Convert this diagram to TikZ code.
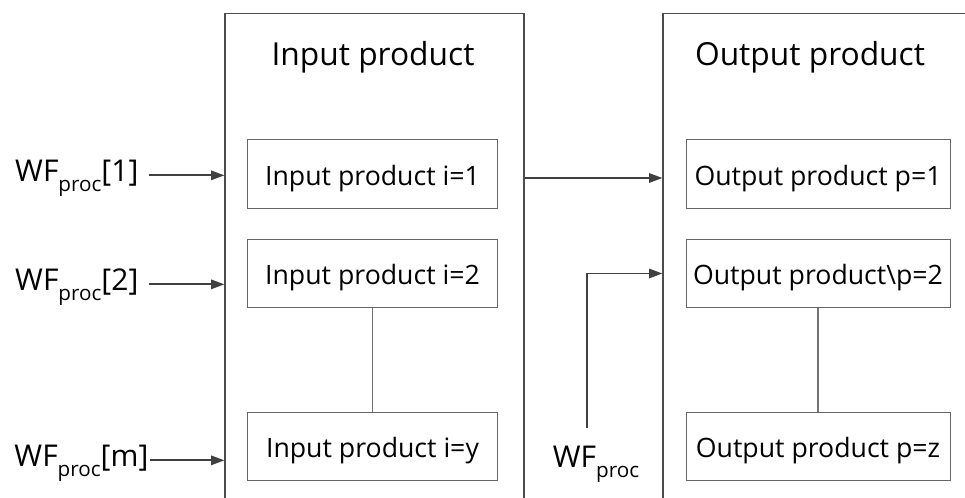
\documentclass[tikz,border=0pt]{standalone}
\usepackage{fontspec}
\setmainfont{Open Sans}
\usetikzlibrary{positioning,arrows.meta}
\newcommand{\wfsub}[1]{\raisebox{-0.6ex}{\fontsize{15.5}{16}\selectfont #1}}
\tikzset{
  frame/.style={draw=black!70, line width=0.8pt, minimum height=372pt, inner sep=0pt},
  item/.style={draw=black!60, line width=0.7pt, minimum height=51.5pt,
    inner sep=0pt, text height=19pt, text depth=2pt, font=\fontsize{20}{22}\selectfont},
  heading/.style={font=\fontsize{23.8}{27}\selectfont},
  wflabel/.style={font=\fontsize{22.5}{26}\selectfont, inner sep=1pt},
  flow/.style={-{Triangle[length=10pt,width=7pt]}, draw=black!75, line width=1.4pt},
  link/.style={draw=black!55, line width=0.8pt}
}
\begin{document}
\begin{tikzpicture}[x=0.75pt, y=-0.75pt]
  \useasboundingbox (0,0) rectangle (965,497);
  % containers
  \node[frame, minimum width=224.25pt] (inbox) at (374.5,261.5) {};
  \node[frame, minimum width=234pt] (outbox) at (819,261.5) {};
  \node[heading] (intitle) at (373,57) {Input product};
  \node[heading] (outtitle) at (810,57) {Output product};
  % input side
  \node[item, minimum width=187pt] (in1) at (372.5,174) {Input product i=1};
  \node[item, minimum width=187pt] (in2) at (372.5,273.5) {Input product i=2};
  \node[item, minimum width=187pt] (in3) at (372.5,446.5) {Input product i=y};
  \draw[link] (in2) -- (in3);
  % output side
  \node[item, minimum width=198pt] (out1) at (818,174) {Output product p=1};
  \node[item, minimum width=198pt] (out2) at (818,273.5) {Output product\textbackslash p=2};
  \node[item, minimum width=198pt] (out3) at (818,446.5) {Output product p=z};
  \draw[link] (out2) -- (out3);
  % work flows
  \node[wflabel, anchor=east] (wf1) at (140,178) {WF\wfsub{proc}[1]};
  \node[wflabel, anchor=east] (wf2) at (140,287) {WF\wfsub{proc}[2]};
  \node[wflabel, anchor=east] (wfm) at (150,463) {WF\wfsub{proc}[m]};
  \node[wflabel] (wfo) at (596,464) {WF\wfsub{proc}};
  \coordinate (wfotop) at (587,428);
  \draw[flow] ([xshift=7pt,yshift=2pt]wf1.east) -- ([yshift=2pt]wf1.east -| inbox.west);
  \draw[flow] ([xshift=7pt,yshift=2pt]wf2.east) -- ([yshift=2pt]wf2.east -| inbox.west);
  \draw[flow] ([yshift=2pt]wfm.east) -- ([yshift=2pt]wfm.east -| inbox.west);
  \draw[flow] ([yshift=-3pt]in1.east -| inbox.east) -- ([yshift=-3pt]in1.east -| outbox.west);
  \draw[flow] (wfotop) |- (out2.west -| outbox.west);
\end{tikzpicture}
\end{document}
